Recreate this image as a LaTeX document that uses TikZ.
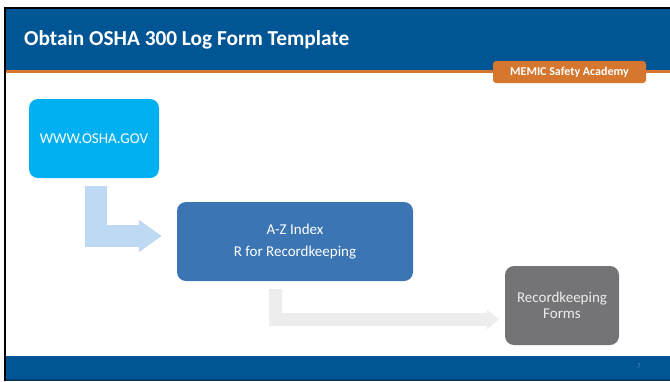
\documentclass[tikz,border=0pt]{standalone}
\usepackage{fontspec}
\setmainfont{Carlito}
\usetikzlibrary{arrows.meta,calc}
\definecolor{hdrblue}{HTML}{005594}
\definecolor{hdrdark}{HTML}{003A66}
\definecolor{badgeorange}{HTML}{D5772E}
\definecolor{cyanbox}{HTML}{00B0F0}
\definecolor{midblue}{HTML}{3C75B4}
\definecolor{graybox}{HTML}{747476}
\definecolor{lightarrow}{HTML}{BDD9F3}
\definecolor{grayarrow}{HTML}{EDEDED}
\definecolor{pagenum}{HTML}{5A8FC6}
\tikzset{
  flowbox/.style={rounded corners=9pt, inner sep=0pt, align=center, font=\fontsize{15}{22}\selectfont},
  bentarrow/.style={line join=miter, line cap=butt},
}
\begin{document}
\begin{tikzpicture}[x=1pt,y=-1pt]
\useasboundingbox (0,0) rectangle (670,381);
% frame and header
\fill[black] (4,7) rectangle (670,381);
\fill[white] (6,9) rectangle (670,379);
\fill[hdrblue] (6,9) rectangle (670,70);
\fill[badgeorange] (6,70) rectangle (670,72.5);
\fill[hdrblue] (6,356) rectangle (670,379);
\fill[hdrdark] (6,379) rectangle (670,381);
\node[anchor=base west, inner sep=0pt, text=white, font=\fontsize{21.3}{26}\selectfont\bfseries] (title) at (24,45) {Obtain OSHA 300 Log Form Template};
\node[fill=badgeorange, rounded corners=3pt, minimum width=153pt, minimum height=22pt, inner sep=0pt, text=white, font=\fontsize{12}{13}\selectfont\bfseries] (badge) at (569.5,72) {MEMIC Safety Academy};
\node[text=pagenum, font=\fontsize{7}{8}\selectfont, inner sep=0pt] (pg) at (639,366) {7};
% boxes
\node[flowbox, fill=cyanbox, text=white, minimum width=130pt, minimum height=79pt] (osha) at (94,138.5) {WWW.OSHA.GOV};
\node[flowbox, fill=midblue, text=white, minimum width=236pt, minimum height=79pt] (az) at (295,241.5) {A-Z Index\\R for Recordkeeping};
\node[flowbox, fill=graybox, text=grayarrow, minimum width=114pt, minimum height=79pt, font=\fontsize{15}{16.5}\selectfont] (forms) at (562,305.5) {Recordkeeping\\Forms};
% bent arrows
\coordinate (a1s) at ($(osha.south west)+(67,8)$);
\coordinate (a1e) at ($(az.west)+(-15,-5.5)$);
\draw[bentarrow, lightarrow, line width=22pt, -{Triangle[length=23pt,width=31pt]}] (a1s) |- (a1e);
\coordinate (a2s) at ($(az.south west)+(98.5,8)$);
\coordinate (a2e) at ($(forms.west)+(-6,14)$);
\draw[bentarrow, grayarrow, line width=13pt, -{Triangle[length=12pt,width=19pt]}] (a2s) |- (a2e);
\end{tikzpicture}
\end{document}
